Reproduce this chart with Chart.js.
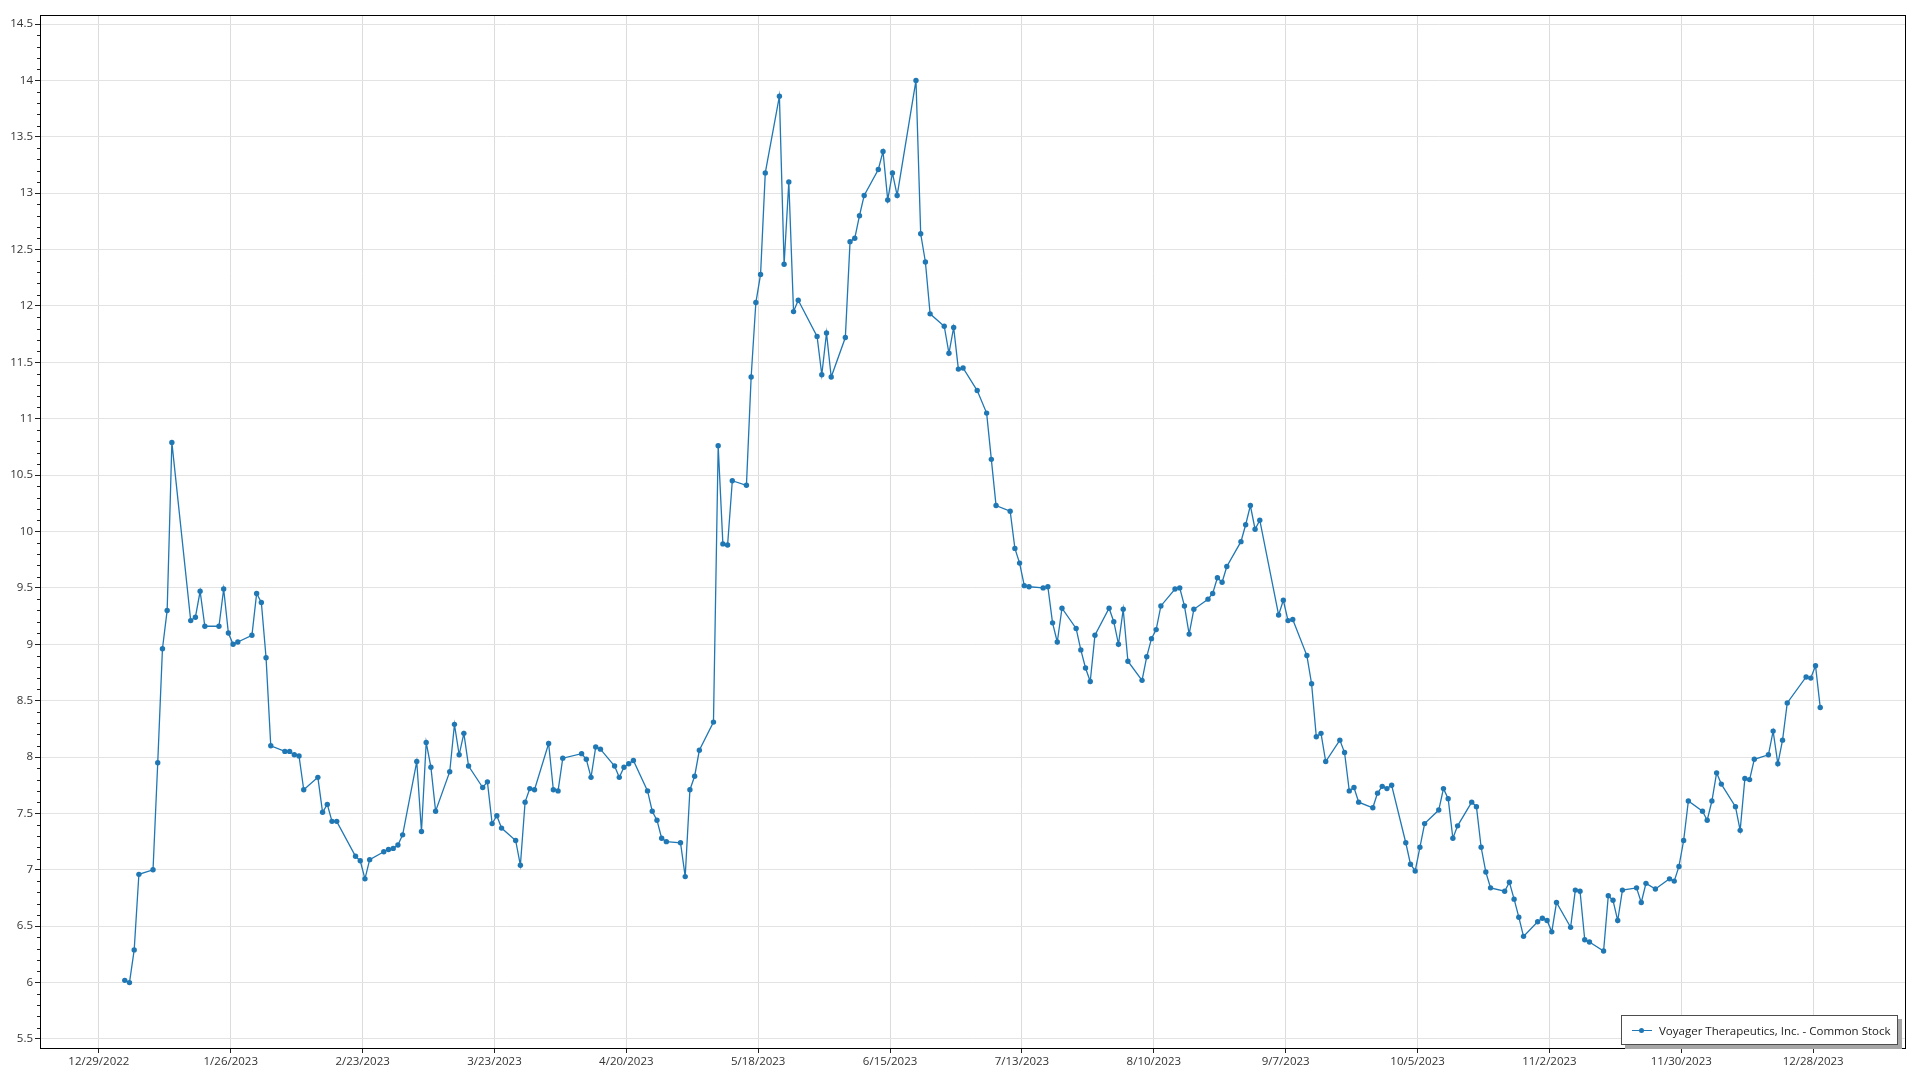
<!DOCTYPE html>
<html>
<head>
<meta charset="utf-8">
<title>Voyager Therapeutics, Inc. - Common Stock</title>
<script src="https://cdn.jsdelivr.net/npm/chart.js@4.4.1/dist/chart.umd.min.js"></script>
<style>
  html, body { margin: 0; padding: 0; background: #fff; }
  #wrap { position: relative; width: 1920px; height: 1080px; }
  #legend {
    position: absolute; left: 1621px; top: 1015px; width: 275px; height: 28px;
    border: 1px solid #4d4d4d; background: #fff; box-shadow: 4px 4px 0 #a6a6a6;
    font: 11.5px "Open Sans", sans-serif; color: #222;
    display: flex; align-items: center; box-sizing: content-box;
  }
  #legend .mark { position: relative; width: 20px; height: 1px; background: #1f77b4; margin: 0 7px 0 10px; }
  #legend .mark::after {
    content: ""; position: absolute; left: 7px; top: -2px; width: 5px; height: 5px;
    border-radius: 50%; background: #1f77b4;
  }
</style>
</head>
<body>
<div id="wrap">
  <canvas id="chart" width="1920" height="1080"></canvas>
  <div id="legend"><span class="mark"></span><span>Voyager Therapeutics, Inc. - Common Stock</span></div>
</div>
<script>
// trading days of 2023, one list per month
const monthDays = [
  [3, 4, 5, 6, 9, 10, 11, 12, 13, 17, 18, 19, 20, 23, 24, 25, 26, 27, 30, 31],
  [1, 2, 3, 6, 7, 8, 9, 10, 13, 14, 15, 16, 17, 21, 22, 23, 24, 27, 28],
  [1, 2, 3, 6, 7, 8, 9, 10, 13, 14, 15, 16, 17, 20, 21, 22, 23, 24, 27, 28, 29, 30, 31],
  [3, 4, 5, 6, 10, 11, 12, 13, 14, 17, 18, 19, 20, 21, 24, 25, 26, 27, 28],
  [1, 2, 3, 4, 5, 8, 9, 10, 11, 12, 15, 16, 17, 18, 19, 22, 23, 24, 25, 26, 30, 31],
  [1, 2, 5, 6, 7, 8, 9, 12, 13, 14, 15, 16, 20, 21, 22, 23, 26, 27, 28, 29, 30],
  [3, 5, 6, 7, 10, 11, 12, 13, 14, 17, 18, 19, 20, 21, 24, 25, 26, 27, 28, 31],
  [1, 2, 3, 4, 7, 8, 9, 10, 11, 14, 15, 16, 17, 18, 21, 22, 23, 24, 25, 28, 29, 30, 31],
  [1, 5, 6, 7, 8, 11, 12, 13, 14, 15, 18, 19, 20, 21, 22, 25, 26, 27, 28, 29],
  [2, 3, 4, 5, 6, 9, 10, 11, 12, 13, 16, 17, 18, 19, 20, 23, 24, 25, 26, 27, 30, 31],
  [1, 2, 3, 6, 7, 8, 9, 10, 13, 14, 15, 16, 17, 20, 21, 22, 24, 27, 28, 29, 30],
  [1, 4, 5, 6, 7, 8, 11, 12, 13, 14, 15, 18, 19, 20, 21, 22, 26, 27, 28, 29]
];

// closing prices, same order as monthDays
const closes = [
  6.02, 6.00, 6.29, 6.96, 7.00, 7.95, 8.96, 9.30, 10.79, 9.21, 9.24, 9.47, 9.16, 9.16, 9.49, 9.10, 9.00, 9.02, 9.08, 9.45,
  9.37, 8.88, 8.10, 8.05, 8.05, 8.02, 8.01, 7.71, 7.82, 7.51, 7.58, 7.43, 7.43, 7.12, 7.08, 6.92, 7.09, 7.16, 7.18,
  7.19, 7.22, 7.31, 7.96, 7.34, 8.13, 7.91, 7.52, 7.87, 8.29, 8.02, 8.21, 7.92, 7.73, 7.78, 7.41, 7.48, 7.37, 7.26, 7.04, 7.60, 7.72, 7.71,
  8.12, 7.71, 7.70, 7.99, 8.03, 7.98, 7.82, 8.09, 8.07, 7.92, 7.82, 7.91, 7.94, 7.97, 7.70, 7.52, 7.44, 7.28, 7.25,
  7.24, 6.94, 7.71, 7.83, 8.06, 8.31, 10.76, 9.89, 9.88, 10.45, 10.41, 11.37, 12.03, 12.28, 13.18, 13.86, 12.37, 13.10, 11.95, 12.05, 11.73, 11.39,
  11.76, 11.37, 11.72, 12.57, 12.60, 12.80, 12.98, 13.21, 13.37, 12.94, 13.18, 12.98, 14.00, 12.64, 12.39, 11.93, 11.82, 11.58, 11.81, 11.44, 11.45,
  11.25, 11.05, 10.64, 10.23, 10.18, 9.85, 9.72, 9.52, 9.51, 9.50, 9.51, 9.19, 9.02, 9.32, 9.14, 8.95, 8.79, 8.67, 9.08, 9.32,
  9.20, 9.00, 9.31, 8.85, 8.68, 8.89, 9.05, 9.13, 9.34, 9.49, 9.50, 9.34, 9.09, 9.31, 9.40, 9.45, 9.59, 9.55, 9.69, 9.91, 10.06, 10.23, 10.02,
  10.10, 9.26, 9.39, 9.21, 9.22, 8.90, 8.65, 8.18, 8.21, 7.96, 8.15, 8.04, 7.70, 7.73, 7.60, 7.55, 7.68, 7.74, 7.72, 7.75,
  7.24, 7.05, 6.99, 7.20, 7.41, 7.53, 7.72, 7.63, 7.28, 7.39, 7.60, 7.56, 7.20, 6.98, 6.84, 6.81, 6.89, 6.74, 6.58, 6.41, 6.54, 6.57,
  6.55, 6.45, 6.71, 6.49, 6.82, 6.81, 6.38, 6.36, 6.28, 6.77, 6.73, 6.55, 6.82, 6.84, 6.71, 6.88, 6.83, 6.92, 6.90, 7.03, 7.26,
  7.61, 7.52, 7.44, 7.61, 7.86, 7.76, 7.56, 7.35, 7.81, 7.80, 7.98, 8.02, 8.23, 7.94, 8.15, 8.48, 8.71, 8.70, 8.81, 8.44
];

const tickLabels = ['12/29/2022', '1/26/2023', '2/23/2023', '3/23/2023', '4/20/2023', '5/18/2023', '6/15/2023',
  '7/13/2023', '8/10/2023', '9/7/2023', '10/5/2023', '11/2/2023', '11/30/2023', '12/28/2023'];

const seriesName = 'Voyager Therapeutics, Inc. - Common Stock';

// x is measured in days from the first tick date
const DAY = 86400000;
const base = Date.UTC(2022, 11, 29);
const dayOf = (y, m, d) => (Date.UTC(y, m, d) - base) / DAY;

const tickDays = tickLabels.map(s => {
  const [m, d, y] = s.split('/').map(Number);
  return dayOf(y, m - 1, d);
});

const points = [];
monthDays.forEach((days, m) => {
  days.forEach(d => {
    // quotes are stamped at midday
    points.push({ x: dayOf(2023, m, d) + 0.5, y: closes[points.length] });
  });
});

Chart.defaults.font.family = '"Open Sans", sans-serif';
Chart.defaults.font.size = 11.5;
Chart.defaults.color = '#333';

const framePlugin = {
  id: 'frame',
  afterDraw(chart) {
    const { ctx, chartArea: a, scales } = chart;
    const y = scales.y;
    ctx.save();
    // minor ticks on the value axis
    ctx.strokeStyle = '#222';
    ctx.lineWidth = 1;
    ctx.beginPath();
    for (let i = 50; i <= 150; i++) {
      if (i % 5 === 0) continue;
      const v = i / 10;
      if (v < y.min || v > y.max) continue;
      const py = Math.round(y.getPixelForValue(v)) + 0.5;
      ctx.moveTo(a.left - 3, py);
      ctx.lineTo(a.left, py);
    }
    ctx.stroke();
    ctx.strokeStyle = '#000';
    ctx.strokeRect(Math.round(a.left) + 0.5, Math.round(a.top) + 0.5,
      Math.round(a.right - a.left), Math.round(a.bottom - a.top));
    ctx.restore();
  }
};

new Chart(document.getElementById('chart'), {
  type: 'line',
  data: {
    datasets: [{
      label: seriesName,
      data: points,
      borderColor: '#1f77b4',
      backgroundColor: '#1f77b4',
      borderWidth: 1.3,
      pointRadius: 2.7,
      pointBorderWidth: 0,
      pointBackgroundColor: '#1f77b4',
      tension: 0,
    }],
  },
  options: {
    responsive: false,
    animation: false,
    layout: { padding: { top: 15, right: 15, left: 0, bottom: 0 } },
    plugins: {
      legend: { display: false },
      tooltip: { enabled: false },
    },
    scales: {
      x: {
        type: 'linear',
        min: -12.5,
        max: 383.5,
        afterBuildTicks: (scale) => {
          scale.ticks = tickDays.map(v => ({ value: v }));
        },
        afterFit: (scale) => { scale.height = 32; },
        grid: { color: '#dcdcdc', tickColor: '#222', tickLength: 5 },
        border: { display: false },
        ticks: {
          autoSkip: false,
          maxRotation: 0,
          padding: 2,
          callback: (v) => tickLabels[tickDays.indexOf(v)] || '',
        },
      },
      y: {
        min: 5.42,
        max: 14.58,
        afterFit: (scale) => { scale.width = 40; },
        grid: { color: '#e3e3e3', tickColor: '#222', tickLength: 5 },
        border: { display: false },
        ticks: {
          stepSize: 0.5,
          includeBounds: false,
          padding: 2,
          callback: (v) => String(+v.toFixed(1)),
        },
      },
    },
  },
  plugins: [framePlugin],
});
</script>
</body>
</html>
